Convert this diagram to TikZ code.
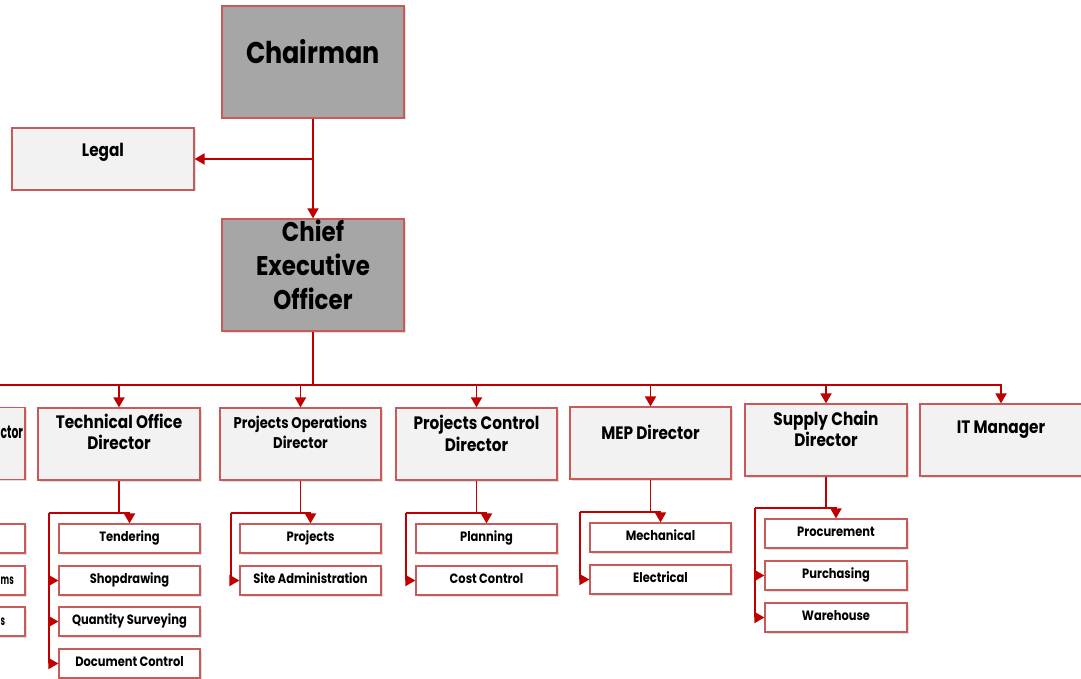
\documentclass[tikz,border=0pt]{standalone}
\usepackage{fontspec}
\setmainfont{Poppins}[FakeStretch=0.85]
\newfontfamily\cutfont{Poppins}[FakeStretch=0.6]
\usetikzlibrary{arrows.meta,shadows,calc}
\definecolor{bord}{RGB}{200,90,90}
\definecolor{wirec}{RGB}{192,0,0}
\definecolor{dgray}{RGB}{166,166,166}
\definecolor{lgray}{RGB}{242,242,242}
\begin{document}
\begin{tikzpicture}[x=1pt,y=-1pt,
 box/.style={draw=bord, line width=1.2pt, inner sep=0pt, drop shadow={shadow xshift=1.5pt,shadow yshift=-1.5pt,opacity=0.25}},
 topbox/.style={box, fill=dgray, minimum width=182pt, minimum height=112pt},
 legbox/.style={box, fill=lgray, minimum width=182pt, minimum height=62pt},
 dirbox/.style={box, fill=lgray, minimum width=162pt, minimum height=72pt},
 subbox/.style={box, fill=white, minimum width=141pt, minimum height=29pt, font=\fontsize{13.5}{16}\selectfont\bfseries, text height=9.5pt, text depth=3pt},
 subtext/.style={anchor=west, inner sep=0pt, font=\cutfont\fontsize{13.5}{16}\selectfont\bfseries},
 dirtext/.style={anchor=north, inner sep=0pt, align=center, font=\fontsize{18}{21}\selectfont\bfseries},
 bigtext/.style={anchor=north, inner sep=0pt, align=center, font=\fontsize{27}{34}\selectfont\bfseries},
 wire/.style={draw=wirec, line width=1.8pt},
 arr/.style={wire, -{Triangle[width=11pt,length=10pt]}},
]
\useasboundingbox (0,0) rectangle (1081,679);
% top level
\node[topbox] (ch) at (313,62) {};
\node[bigtext, font=\fontsize{30}{36}\selectfont\bfseries] (ch-t) at (313,39) {Chairman};
\node[legbox] (legal) at (103,159) {};
\node[dirtext] (legal-t) at (103,143) {Legal};
\node[topbox] (ceo) at (313,275) {};
\node[bigtext] (ceo-t) at (313,220) {Chief\\Executive\\Officer};
% directors
\node[dirbox] (d0) at (-56,443.5) {};
\node[dirtext, anchor=north west, font=\cutfont\fontsize{18}{21}\selectfont\bfseries] (d0-t) at (0.5,426) {ctor};
\node[dirbox] (tod) at (119,444) {};
\node[dirtext] (tod-t) at (119,414) {Technical Office\\Director};
\node[dirbox, minimum width=161pt] (pod) at (300.5,444) {};
\node[dirtext, font=\fontsize{15.5}{20}\selectfont\bfseries] (pod-t) at (300.5,416) {Projects Operations\\Director};
\node[dirbox, minimum width=161pt] (pcd) at (476.5,444) {};
\node[dirtext, font=\fontsize{18}{22}\selectfont\bfseries] (pcd-t) at (476.5,415) {Projects Control\\Director};
\node[dirbox, minimum width=161pt] (mep) at (650.5,443) {};
\node[dirtext] (mep-t) at (650.5,425) {MEP Director};
\node[dirbox] (scd) at (826,440) {};
\node[dirtext] (scd-t) at (826,411) {Supply Chain\\Director};
\node[dirbox] (itm) at (1001,440) {};
\node[dirtext] (itm-t) at (1001,421) {IT Manager};
% sub boxes
\node[subbox] (l1) at (-45.5,538.5) {};
\node[subbox] (l2) at (-45.5,580.5) {};
\node[subbox] (l3) at (-45.5,621.5) {};
\node[subtext] (l2-t) at (0.5,580.5) {ms};
\node[subtext] (l3-t) at (0.5,621.5) {s};
\node[subbox] (tend) at (129.5,538.5) {Tendering};
\node[subbox] (shop) at (129.5,580.5) {Shopdrawing};
\node[subbox] (qs) at (129.5,621.5) {Quantity Surveying};
\node[subbox] (doc) at (129.5,663.5) {Document Control};
\node[subbox] (proj) at (310.5,538.5) {Projects};
\node[subbox] (site) at (310.5,580.5) {Site Administration};
\node[subbox] (plan) at (486.5,538.5) {Planning};
\node[subbox] (cost) at (486.5,580.5) {Cost Control};
\node[subbox] (mech) at (660.5,537.5) {Mechanical};
\node[subbox] (elec) at (660.5,579.5) {Electrical};
\node[subbox, minimum width=142pt] (proc) at (836,533.5) {Procurement};
\node[subbox, minimum width=142pt] (purch) at (836,575.5) {Purchasing};
\node[subbox, minimum width=142pt] (ware) at (836,617.5) {Warehouse};
% connectors top
\draw[arr] (ch.south) -- (ceo.north);
\draw[arr] (ch.south |- legal.east) -- (legal.east);
\coordinate (busL) at (0,385);
\draw[wire] (ceo.south) -- (ceo.south |- busL);
\draw[arr] (busL) -| (itm.north);
\foreach \d in {tod,pod,pcd,mep,scd} {\draw[arr] (\d.north |- busL) -- (\d.north);}
% sub trees
\coordinate (tL) at (49,513);
\draw[wire] (tod.south) -- (tod.south |- tL);
\draw[arr] (tL) -| (tend.north);
\foreach \s in {shop,qs,doc} {\draw[arr] (tL) |- (\s.west);}
\coordinate (pL) at (231,513);
\draw[wire] (pod.south) -- (pod.south |- pL);
\draw[arr] (pL) -| (proj.north);
\draw[arr] (pL) |- (site.west);
\coordinate (cL) at (406,513);
\draw[wire] (pcd.south) -- (pcd.south |- cL);
\draw[arr] (cL) -| (plan.north);
\draw[arr] (cL) |- (cost.west);
\coordinate (mL) at (580,512);
\draw[wire] (mep.south) -- (mep.south |- mL);
\draw[arr] (mL) -| (mech.north);
\draw[arr] (mL) |- (elec.west);
\coordinate (sL) at (755,508);
\draw[wire] (scd.south) -- (scd.south |- sL);
\draw[arr] (sL) -| (proc.north);
\draw[arr] (sL) |- (purch.west);
\draw[arr] (sL) |- (ware.west);
\end{tikzpicture}
\end{document}
